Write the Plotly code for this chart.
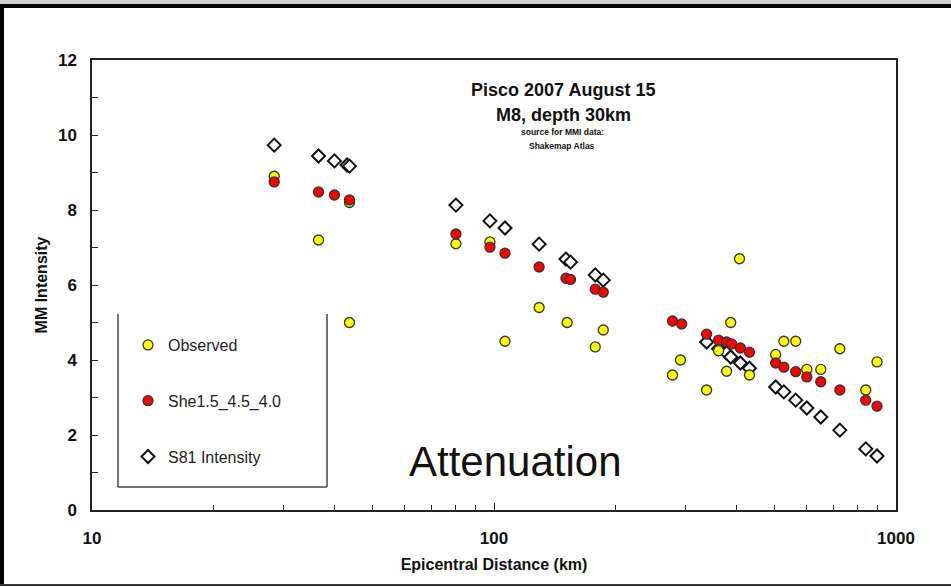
import plotly.graph_objects as go

# ---- data ----
dist_obs = [28.4, 36.6, 43.7, 43.7, 80.4, 97.7, 106.5, 129.5, 152, 178.6, 187,
            278, 291, 338, 362, 379, 388, 408, 432, 502, 526, 563, 600, 650, 725, 841, 897]
mmi_obs = [8.9, 7.2, 5.0, 8.2, 7.1, 7.15, 4.5, 5.4, 5.0, 4.35, 4.8,
           3.6, 4.0, 3.2, 4.25, 3.7, 5.0, 6.7, 3.6, 4.15, 4.5, 4.5, 3.75, 3.75, 4.3, 3.2, 3.95]

dist_she = [28.4, 36.6, 40.1, 43.7, 80.4, 97.7, 106.5, 129.5, 151, 155, 178.6, 187,
            278, 293, 338, 362, 379, 390, 410, 432, 502, 526, 563, 600, 650, 725, 841, 897]
mmi_she = [8.75, 8.48, 8.4, 8.27, 7.36, 7.01, 6.85, 6.48, 6.18, 6.15, 5.89, 5.81,
           5.04, 4.96, 4.69, 4.53, 4.48, 4.43, 4.32, 4.21, 3.92, 3.81, 3.69, 3.55, 3.42, 3.2, 2.93, 2.77]

dist_s81 = [28.4, 36.6, 40.1, 43.1, 43.7, 80.4, 97.7, 106.5, 129.5, 151, 155, 178.6, 187,
            338, 362, 379, 388, 410, 432, 502, 526, 563, 600, 650, 725, 841, 897]
mmi_s81 = [9.73, 9.44, 9.31, 9.2, 9.17, 8.13, 7.71, 7.52, 7.09, 6.69, 6.61, 6.27, 6.13,
           4.48, 4.3, 4.19, 4.08, 3.92, 3.78, 3.28, 3.15, 2.93, 2.72, 2.48, 2.13, 1.63, 1.44]

x_ticks = [10, 100, 1000]
x_tick_labels = ["10", "100", "1000"]
x_minor = [20, 30, 40, 50, 60, 70, 80, 90, 200, 300, 400, 500, 600, 700, 800, 900]
y_ticks = [0, 2, 4, 6, 8, 10, 12]

FONT = "Arial, Liberation Sans, Helvetica, sans-serif"

# geometry helpers (paper coordinates from pixel positions)
L, R, T, B = 92, 55, 60, 77
W, H = 951, 587
PW, PH = W - L - R, H - T - B
def px(x):
    return (x - L) / PW
def py(y):
    return (H - B - y) / PH

fig = go.Figure()

fig.add_trace(go.Scatter(
    x=dist_s81, y=mmi_s81, mode="markers", name="S81 Intensity",
    legendgroup="c", legendrank=3,
    marker=dict(symbol="diamond", size=10, color="white",
                line=dict(color="#111111", width=2)),
))
fig.add_trace(go.Scatter(
    x=dist_obs, y=mmi_obs, mode="markers", name="Observed",
    legendgroup="a", legendrank=1,
    marker=dict(symbol="circle", size=10, color="#ffff00",
                line=dict(color="#333333", width=1.3)),
))
fig.add_trace(go.Scatter(
    x=dist_she, y=mmi_she, mode="markers", name="She1.5_4.5_4.0",
    legendgroup="b", legendrank=2,
    marker=dict(symbol="circle", size=10, color="#ff0000",
                line=dict(color="#333333", width=1.3)),
))

fig.update_layout(
    width=W, height=H,
    margin=dict(l=L, r=R, t=T, b=B),
    paper_bgcolor="white", plot_bgcolor="white",
    font=dict(family=FONT, color="#111111"),
    showlegend=True,
    legend=dict(
        x=px(128), y=py(328), xanchor="left", yanchor="top",
        bgcolor="rgba(0,0,0,0)", borderwidth=0,
        font=dict(size=16, color="#222222", family=FONT),
        traceorder="grouped", tracegroupgap=32,
        itemwidth=30,
    ),
    xaxis=dict(
        type="log", range=[1, 3],
        tickvals=x_ticks, ticktext=x_tick_labels,
        ticks="inside", ticklen=7, tickwidth=1.3, tickcolor="#222222",
        minor=dict(tickvals=x_minor, ticks="inside", ticklen=5, tickwidth=1.2, tickcolor="#222222"),
        showgrid=False, zeroline=False,
        showline=True, linecolor="#222222", linewidth=1.5, mirror=True,
        tickfont=dict(size=17, family=FONT, weight="bold", color="#111111"),
        ticklabelstandoff=12,
        title=dict(text="<b>Epicentral Distance (km)</b>", font=dict(size=16, family=FONT), standoff=12),
    ),
    yaxis=dict(
        range=[0, 12], tickvals=y_ticks,
        ticks="inside", ticklen=6, tickwidth=1.3, tickcolor="#222222",
        minor=dict(dtick=1, ticks="inside", ticklen=6, tickwidth=1.3, tickcolor="#222222"),
        showgrid=False, zeroline=False,
        showline=True, linecolor="#222222", linewidth=1.5, mirror=True,
        tickfont=dict(size=17, family=FONT, weight="bold", color="#111111"),
        ticklabelstandoff=10,
        title=dict(text="<b>MM Intensity</b>", font=dict(size=16, family=FONT), standoff=6),
    ),
)

annots = [
    dict(text="<b>Pisco 2007 August 15</b>", x=px(563), y=py(90), size=18),
    dict(text="<b>M8, depth 30km</b>", x=px(563), y=py(115), size=18),
    dict(text="<b>source for MMI data:</b>", x=px(562), y=py(132), size=8.5),
    dict(text="<b>Shakemap Atlas</b>", x=px(562), y=py(146), size=8.5),
]
for a in annots:
    fig.add_annotation(text=a["text"], x=a["x"], y=a["y"], xref="paper", yref="paper",
                       showarrow=False, xanchor="center", yanchor="middle",
                       font=dict(size=a["size"], family=FONT, color="#111111"))

fig.add_annotation(text="Attenuation", x=px(515), y=py(461), xref="paper", yref="paper",
                   showarrow=False, xanchor="center", yanchor="middle",
                   font=dict(size=42, family=FONT, color="#111111"))

# legend box (left, right, bottom sides)
lb = dict(color="#444444", width=1.5)
fig.add_shape(type="line", xref="paper", yref="paper", x0=px(118), x1=px(118), y0=py(314), y1=py(487), line=lb)
fig.add_shape(type="line", xref="paper", yref="paper", x0=px(327), x1=px(327), y0=py(314), y1=py(487), line=lb)
fig.add_shape(type="line", xref="paper", yref="paper", x0=px(118), x1=px(327), y0=py(487), y1=py(487), line=lb)

# outer frame of the slide
fig.add_shape(type="rect", xref="paper", yref="paper", x0=px(0), x1=px(951), y0=py(4), y1=py(0),
              line=dict(width=0), fillcolor="#cfcfcf", layer="below")
ob = dict(color="#000000", width=4)
fig.add_shape(type="line", xref="paper", yref="paper", x0=px(0), x1=px(951), y0=py(6), y1=py(6), line=ob)
fig.add_shape(type="line", xref="paper", yref="paper", x0=px(2), x1=px(2), y0=py(6), y1=py(585), line=ob)
fig.add_shape(type="line", xref="paper", yref="paper", x0=px(0), x1=px(951), y0=py(585), y1=py(585),
              line=dict(color="#333333", width=2))

fig.write_html("out.html", config={"displayModeBar": False},
               post_script="document.body.style.margin='0px';")
